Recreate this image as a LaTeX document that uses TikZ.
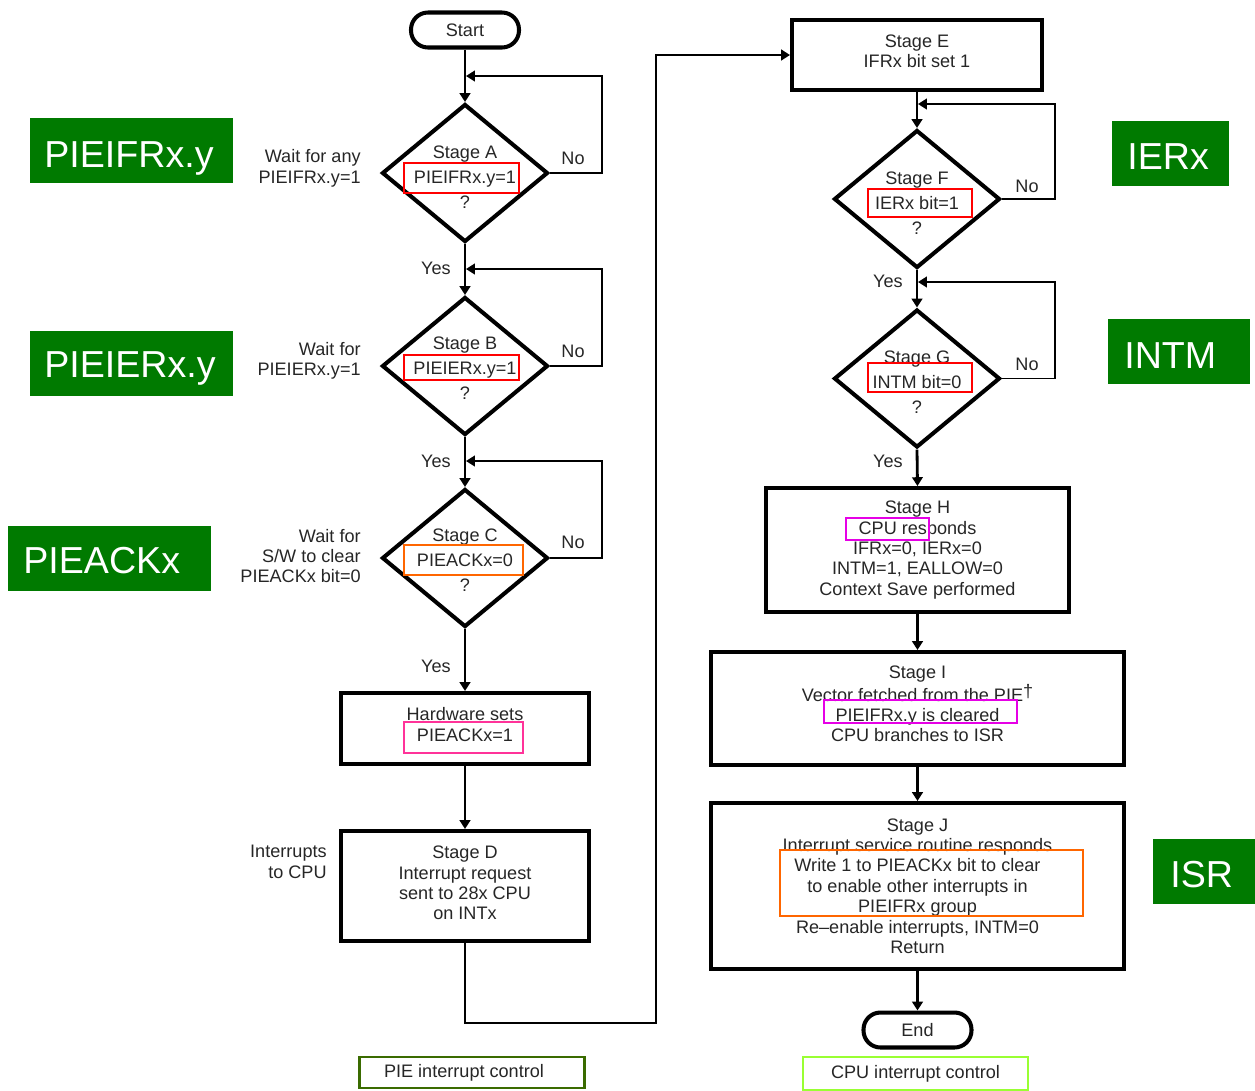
\documentclass[tikz,border=0pt]{standalone}
\usepackage{fontspec}
\setmainfont{Liberation Sans}
\usetikzlibrary{shapes.geometric,arrows.meta}
\definecolor{lblgreen}{HTML}{007A00}
\definecolor{hlred}{HTML}{FF0000}
\definecolor{hlorange}{HTML}{FF6600}
\definecolor{hlpink}{HTML}{FF3399}
\definecolor{hlmagenta}{HTML}{E600E6}
\definecolor{piegreen}{HTML}{3A6B00}
\definecolor{cpugreen}{HTML}{99FF33}

\begin{document}
\begin{tikzpicture}[x=0.02cm,y=-0.02cm,
  txt/.style={font=\fontsize{10.3}{11.6}\selectfont, align=center, inner sep=0pt, text=black!85},
  dtxt/.style={font=\fontsize{10.3}{14.2}\selectfont, align=center, inner sep=0pt, text=black!85},
  box/.style={draw, line width=2.3pt, rectangle, inner sep=0pt, txt},
  term/.style={draw, line width=2.3pt, rounded corners=0.34cm, minimum width=2.16cm, minimum height=0.7cm, inner sep=0pt, txt},
  decision/.style={draw, line width=2.3pt, diamond, minimum width=3.32cm, minimum height=2.76cm, inner sep=0pt},
  conn/.style={line width=1.6pt, -{Triangle[length=5pt,width=6pt]}},
  back/.style={line width=1.1pt, -{Triangle[length=5pt,width=6pt]}},
  hl/.style={line width=1.6pt},
  greenbox/.style={fill=lblgreen, minimum height=1.3cm, inner sep=0pt},
  greentxt/.style={text=white, font=\fontsize{21.4}{25}\selectfont, inner sep=0pt, anchor=base west},
  side/.style={txt, align=right, anchor=east}
]
\useasboundingbox (0,0) rectangle (1255,1090);

% PIE side
\node[term] (start) at (465,30) {Start};
\node[decision] (dA) at (465,173) {};
\node[dtxt] (tA) at (465,177) {Stage A\\PIEIFRx.y=1\\?};
\node[decision] (dB) at (465,366) {};
\node[dtxt] (tB) at (465,368) {Stage B\\PIEIERx.y=1\\?};
\node[decision] (dC) at (465,558) {};
\node[dtxt] (tC) at (465,560) {Stage C\\PIEACKx=0\\?};
\node[box, minimum width=4.96cm, minimum height=1.42cm] (hw) at (465,728.5) {};
\node[txt] (thw) at (465,724.5) {Hardware sets\\PIEACKx=1};
\node[box, minimum width=4.96cm, minimum height=2.2cm] (bD) at (465,886) {};
\node[txt] (tD) at (465,883) {Stage D\\Interrupt request\\sent to 28x CPU\\on INTx};

% CPU side
\node[box, minimum width=5cm, minimum height=1.4cm] (bE) at (917,55) {};
\node[txt] (tE) at (917,51.5) {Stage E\\IFRx bit set 1};
\node[decision] (dF) at (917,199) {};
\node[dtxt] (tF) at (917,203) {Stage F\\IERx bit=1\\?};
\node[decision] (dG) at (917,378.5) {};
\node[dtxt] (tG) at (917,382) {Stage G\\INTM bit=0\\?};
\node[box, minimum width=6.06cm, minimum height=2.48cm] (bH) at (917.5,550) {Stage H\\CPU responds\\IFRx=0, IERx=0\\INTM=1, EALLOW=0\\Context Save performed};
\node[box, minimum width=8.26cm, minimum height=2.26cm] (bI) at (917.5,708.5) {};
\node[txt] (tI) at (917.5,704) {Stage I\\Vector fetched from the PIE\raisebox{0.4ex}{\textdagger}\\PIEIFRx.y is cleared\\CPU branches to ISR};
\node[box, minimum width=8.26cm, minimum height=3.32cm] (bJ) at (917.5,886) {Stage J\\Interrupt service routine responds\\Write 1 to PIEACKx bit to clear\\to enable other interrupts in\\PIEIFRx group\\Re--enable interrupts, INTM=0\\Return};
\node[term] (end) at (917.5,1030) {End};

% main flow
\draw[conn] (start.south) -- (dA.north);
\draw[conn] (dA.south) -- (dB.north);
\draw[conn] (dB.south) -- (dC.north);
\draw[conn] (dC.south) -- (hw.north);
\draw[conn] (hw.south) -- (bD.north);
\draw[conn] (bD.south) |- (656,1023) |- (bE.west);
\draw[conn] (bE.south) -- (dF.north);
\draw[conn] (dF.south) -- (dG.north);
\draw[conn] (dG.south) -- (bH.north);
\draw[conn] (bH.south) -- (bI.north);
\draw[conn] (bI.south) -- (bJ.north);
\draw[conn] (bJ.south) -- (end.north);

% wait loops
\coordinate (jA) at (466,76);
\coordinate (jB) at (466,269);
\coordinate (jC) at (466,461);
\coordinate (jF) at (918,104);
\coordinate (jG) at (918,282);
\draw[back] (dA.east) -- ++(52,0) |- (jA);
\draw[back] (dB.east) -- ++(52,0) |- (jB);
\draw[back] (dC.east) -- ++(52,0) |- (jC);
\draw[back] (dF.east) -- ++(53,0) |- (jF);
\draw[back] (dG.east) -- ++(53,0) |- (jG);

\node[txt] (nA) at (573,158) {No};
\node[txt] (nB) at (573,351) {No};
\node[txt] (nC) at (573,542) {No};
\node[txt] (nF) at (1027,186) {No};
\node[txt] (nG) at (1027,364) {No};
\node[txt] (yA) at (436,268) {Yes};
\node[txt] (yB) at (436,461) {Yes};
\node[txt] (yC) at (436,666) {Yes};
\node[txt] (yF) at (888,281) {Yes};
\node[txt] (yG) at (888,461) {Yes};

\node[side] (sA) at (361,168.5) {Wait for any\\PIEIFRx.y=1};
\node[side] (sB) at (361,361) {Wait for\\PIEIERx.y=1};
\node[side] (sC) at (361,556) {Wait for\\S/W to clear\\PIEACKx bit=0};
\node[side] (sD) at (327,862) {Interrupts\\to CPU};

% highlights
\draw[hl, hlred] (404,163) rectangle (519,193);
\draw[hl, hlred] (404,355) rectangle (519,380);
\draw[hl, hlorange] (404,545) rectangle (523,575);
\draw[hl, hlpink] (404,722) rectangle (523,753);
\draw[hl, hlred] (868,189) rectangle (972,217);
\draw[hl, hlred] (868,363) rectangle (972,392);
\draw[hl, hlmagenta] (846,518) rectangle (929,540);
\draw[hl, hlmagenta] (824,700) rectangle (1017,723);
\draw[hl, hlorange] (780,850) rectangle (1083,916);

\node[draw=piegreen, line width=1.6pt, minimum width=4.5cm, minimum height=0.62cm] (pie) at (472,1072.5) {};
\node[txt] (tpie) at (464,1072.5) {PIE interrupt control};
\node[txt, draw=cpugreen, line width=1.6pt, minimum width=4.5cm, minimum height=0.66cm] (cpu) at (915.5,1073.5) {CPU interrupt control};

% register labels
\node[greenbox, minimum width=4.06cm] (gA) at (131.5,150.5) {};
\node[greenbox, minimum width=4.06cm] (gB) at (131.5,363) {};
\node[greenbox, minimum width=4.06cm] (gC) at (109.5,558) {};
\node[greenbox, minimum width=2.34cm] (gF) at (1170.5,153.5) {};
\node[greenbox, minimum width=2.84cm] (gG) at (1179,351.5) {};
\node[greenbox, minimum width=2.04cm] (gJ) at (1204,871) {};
\node[greentxt] at (44,167) {PIEIFRx.y};
\node[greentxt] at (44,377) {PIEIERx.y};
\node[greentxt] at (23,573) {PIEACKx};
\node[greentxt] at (1127,169) {IERx};
\node[greentxt] at (1124,368) {INTM};
\node[greentxt] at (1170,887) {ISR};
\end{tikzpicture}
\end{document}
